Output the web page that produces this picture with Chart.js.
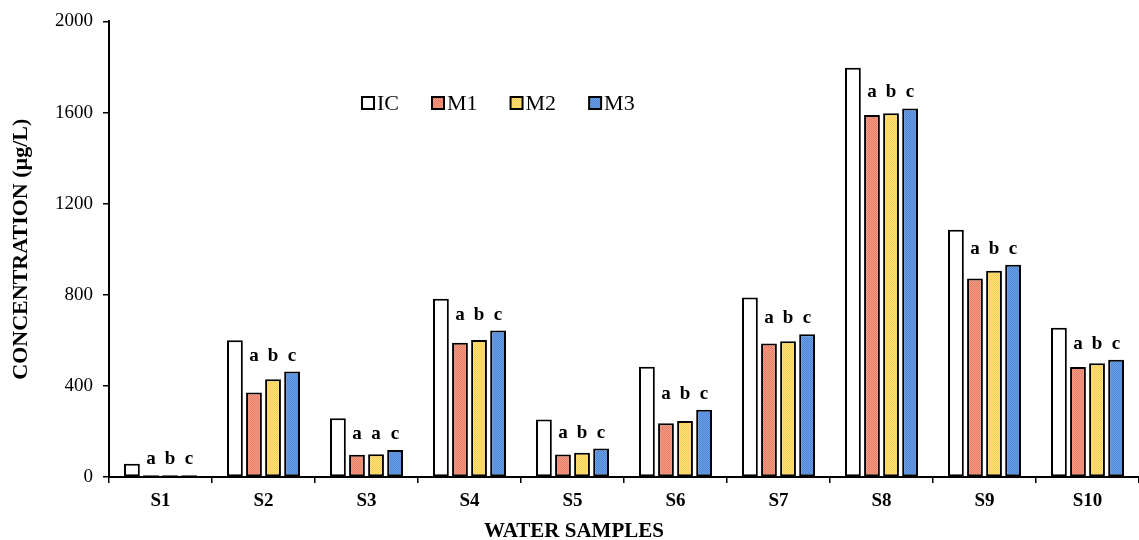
<!DOCTYPE html>
<html lang="en">
<head>
  <meta charset="UTF-8" />
  <title>Concentration by water sample</title>
  <script src="https://cdn.jsdelivr.net/npm/chart.js"></script>
  <style>
    * { margin: 0; padding: 0; box-sizing: border-box; }
    body { background: #fff; overflow: hidden; }
    .wrap { width: 1139px; height: 540px; position: relative; }
  </style>
</head>
<body>
  <div class="wrap"><canvas id="chart"></canvas></div>

  <script>
    // values (µg/L)
    const samples = ['S1', 'S2', 'S3', 'S4', 'S5', 'S6', 'S7', 'S8', 'S9', 'S10'];
    const seriesNames = ['IC', 'M1', 'M2', 'M3'];
    const icValues = [58, 600, 258, 782, 252, 484, 788, 1796, 1085, 655];
    const m1Values = [8, 371, 98, 589, 99, 236, 586, 1589, 871, 483];
    const m2Values = [8, 429, 100, 601, 106, 246, 596, 1597, 905, 499];
    const m3Values = [8, 463, 118, 643, 125, 295, 627, 1618, 932, 515];
    const sigLetters = [
      ['a', 'b', 'c'], ['a', 'b', 'c'], ['a', 'a', 'c'], ['a', 'b', 'c'], ['a', 'b', 'c'],
      ['a', 'b', 'c'], ['a', 'b', 'c'], ['a', 'b', 'c'], ['a', 'b', 'c'], ['a', 'b', 'c']
    ];
    const yMax = 2000;
    const yStep = 400;

    const serif = "'Liberation Serif', 'Times New Roman', serif";
    Chart.defaults.font.family = serif;
    Chart.defaults.color = '#000';

    // little dithered fill like the original figure
    function dither(c1, c2) {
      const p = document.createElement('canvas');
      p.width = 2; p.height = 2;
      const g = p.getContext('2d');
      g.fillStyle = c1; g.fillRect(0, 0, 2, 2);
      g.fillStyle = c2; g.fillRect(0, 0, 1, 1); g.fillRect(1, 1, 1, 1);
      return g.createPattern(p, 'repeat');
    }

    const fills = [
      '#ffffff',
      dither('#f39a84', '#ea7f68'),
      dither('#ffe07a', '#f7cf55'),
      dither('#6b9fe6', '#4f86d6')
    ];

    const letterPlugin = {
      id: 'letters',
      afterDatasetsDraw(chart) {
        const ctx = chart.ctx;
        ctx.save();
        ctx.font = 'bold 19px ' + serif;
        ctx.fillStyle = '#000';
        ctx.textAlign = 'center';
        ctx.textBaseline = 'alphabetic';
        samples.forEach((s, i) => {
          const bars = [1, 2, 3].map(d => chart.getDatasetMeta(d).data[i]);
          const top = Math.min(...bars.map(b => b.y));
          bars.forEach((b, j) => ctx.fillText(sigLetters[i][j], b.x, top - 11));
        });
        ctx.restore();
      }
    };

    // legend inside the plot + x title, which sits left of the plot centre
    const legendPlugin = {
      id: 'boxLegend',
      afterDraw(chart) {
        const ctx = chart.ctx;
        ctx.save();
        ctx.font = '22px ' + serif;
        ctx.textBaseline = 'middle';
        let x = 362;
        const y = 103;
        chart.data.datasets.forEach(ds => {
          ctx.fillStyle = ds.backgroundColor;
          ctx.fillRect(x, y - 6, 12, 12);
          ctx.lineWidth = 2;
          ctx.strokeStyle = '#000';
          ctx.strokeRect(x, y - 6, 12, 12);
          ctx.fillStyle = '#000';
          ctx.fillText(ds.label, x + 15, y + 1);
          x += 15 + ctx.measureText(ds.label).width + 33;
        });

        ctx.font = 'bold 21px ' + serif;
        ctx.textAlign = 'center';
        ctx.fillText('WATER SAMPLES', 574, 532);
        ctx.restore();
      }
    };

    const allValues = [icValues, m1Values, m2Values, m3Values];

    new Chart(document.getElementById('chart'), {
      type: 'bar',
      data: {
        labels: samples,
        datasets: seriesNames.map((name, k) => ({
          label: name,
          data: allValues[k],
          backgroundColor: fills[k],
          borderColor: '#000',
          borderWidth: 2,
          borderSkipped: false,
          categoryPercentage: 0.74,
          barPercentage: 0.83
        }))
      },
      options: {
        responsive: true,
        maintainAspectRatio: false,
        animation: false,
        layout: { padding: { top: 20, left: 0, right: 0, bottom: 0 } },
        plugins: {
          legend: { display: false },
          tooltip: { enabled: false }
        },
        scales: {
          x: {
            afterFit(scale) { scale.height = 63; },
            grid: { drawOnChartArea: false, tickLength: 6, color: '#000', lineWidth: 1.5 },
            border: { color: '#000', width: 2 },
            ticks: { font: { size: 19, weight: 'bold' }, padding: 7 }
          },
          y: {
            min: 0,
            max: yMax,
            afterFit(scale) { scale.width = 109; },
            grid: { drawOnChartArea: false, tickLength: 6, color: '#000', lineWidth: 1.5 },
            border: { color: '#000', width: 2 },
            ticks: {
              stepSize: yStep,
              font: { size: 19 },
              padding: 10,
              callback: v => String(v)
            },
            title: {
              display: true,
              text: 'CONCENTRATION (µg/L)',
              font: { size: 22, weight: 'bold' },
              padding: { top: 8, bottom: 0 }
            }
          }
        }
      },
      plugins: [letterPlugin, legendPlugin]
    });
  </script>
</body>
</html>
